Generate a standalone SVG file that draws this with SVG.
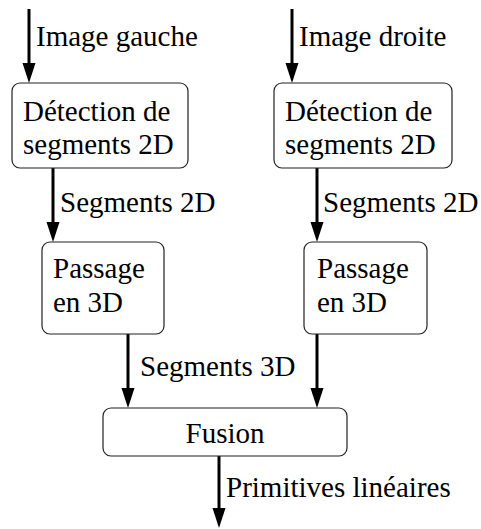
<svg xmlns="http://www.w3.org/2000/svg" width="481" height="529" viewBox="0 0 481 529" font-family="'Liberation Serif', 'Times New Roman', serif">
<style>
.box{fill:#fff;stroke:#222;stroke-width:1.2}
.t{font-family:'Liberation Serif','Times New Roman',serif;font-size:29px;fill:#000}
.c{stroke:#000;stroke-width:3}
</style>
<g id="connectors">
<line class="c" x1="29" y1="9" x2="29" y2="70"/>
<polygon points="22.5,63 35.5,63 29,83"/>
<text class="t" x="36" y="46">Image gauche</text>
<line class="c" x1="292" y1="9" x2="292" y2="70"/>
<polygon points="285.5,63 298.5,63 292,83"/>
<text class="t" x="299" y="46">Image droite</text>
<line class="c" x1="53" y1="168" x2="53" y2="230"/>
<polygon points="46.5,222 59.5,222 53,242"/>
<text class="t" x="60" y="212">Segments 2D</text>
<line class="c" x1="317" y1="168" x2="317" y2="230"/>
<polygon points="310.5,222 323.5,222 317,242"/>
<text class="t" x="323" y="212">Segments 2D</text>
<line class="c" x1="128" y1="334" x2="128" y2="395"/>
<polygon points="121.5,388 134.5,388 128,408"/>
<text class="t" x="140" y="376">Segments 3D</text>
<line class="c" x1="317" y1="334" x2="317" y2="395"/>
<polygon points="310.5,388 323.5,388 317,408"/>
<line class="c" x1="219" y1="456" x2="219" y2="515"/>
<polygon points="212.5,508 225.5,508 219,528"/>
<text class="t" x="226" y="497">Primitives linéaires</text>
</g>
<g id="detect-left">
<rect class="box" x="12" y="83" width="176" height="85" rx="8"/>
<text class="t" x="23" y="121">Détection de</text>
<text class="t" x="23" y="154">segments 2D</text>
</g>
<g id="detect-right">
<rect class="box" x="274" y="83" width="178" height="85" rx="8"/>
<text class="t" x="285" y="121">Détection de</text>
<text class="t" x="285" y="154">segments 2D</text>
</g>
<g id="passage-left">
<rect class="box" x="42" y="242" width="122" height="92" rx="8"/>
<text class="t" x="53" y="278">Passage</text>
<text class="t" x="53" y="312">en 3D</text>
</g>
<g id="passage-right">
<rect class="box" x="304" y="242" width="123" height="92" rx="8"/>
<text class="t" x="317" y="278">Passage</text>
<text class="t" x="317" y="312">en 3D</text>
</g>
<g id="fusion">
<rect class="box" x="103" y="408" width="244" height="48" rx="8"/>
<text class="t" x="225" y="443" text-anchor="middle">Fusion</text>
</g>
</svg>
